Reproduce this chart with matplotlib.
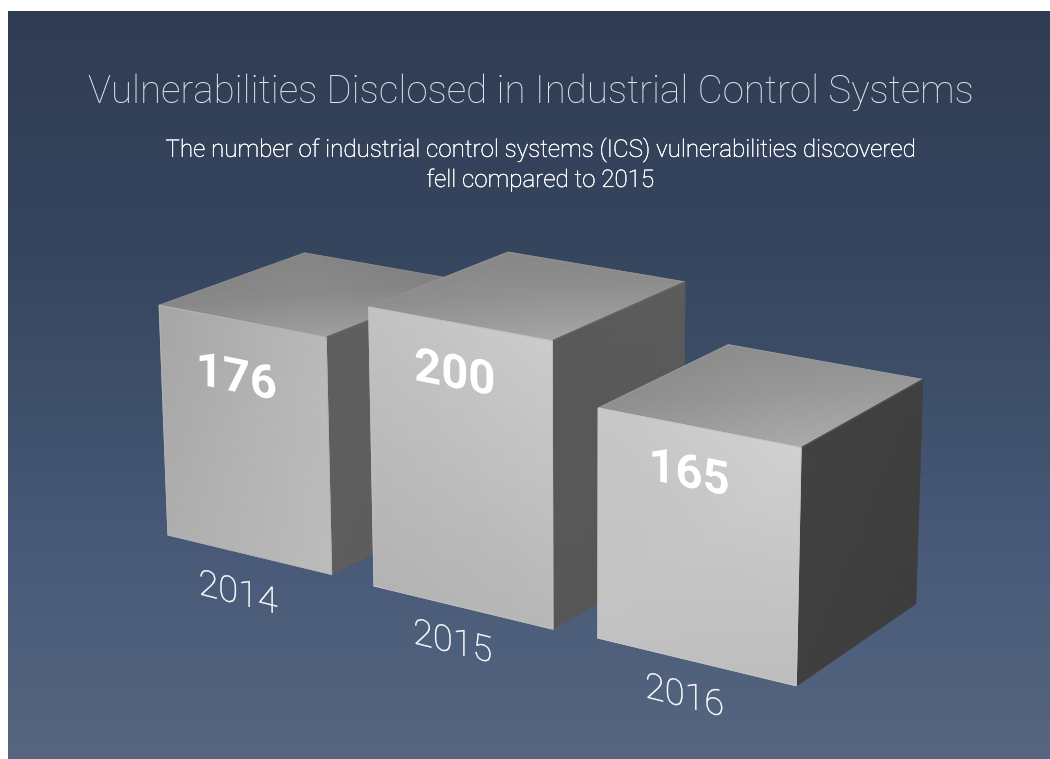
import numpy as np
import matplotlib
matplotlib.use("Agg")
import matplotlib.pyplot as plt
import matplotlib.patheffects as pe
from matplotlib.colors import LinearSegmentedColormap
from matplotlib.patches import Polygon
from matplotlib.transforms import Affine2D

# ---- data ----
years = ["2014", "2015", "2016"]
values = [176, 200, 165]
title = "Vulnerabilities Disclosed in Industrial Control Systems"
subtitle = ["The number of industrial control systems (ICS) vulnerabilities discovered",
            "fell compared to 2015"]

# ---- scene layout (world units: one bar footprint = 1) ----
bar_x = [-1.258, 0.0, 1.227]
bar_y = [0.012, 0.0, 0.017]
bar_w = [1.0, 1.0, 1.013]
bar_d = 0.97
value_floor = 27.8      # the height scale does not start at zero
value_top = 200.0
num_dx = [0.46, 0.475, 0.46]
num_frac = [0.75, 0.82, 0.795]
year_dx = [0.786, 0.712, 0.669]
year_dy = [-0.371, -0.321, -0.309]

# grey levels of each face corner: (top-left, top-right, bottom-left, bottom-right)
front_shade = [(0.65, 0.73, 0.68, 0.74), (0.76, 0.80, 0.70, 0.72), (0.78, 0.82, 0.76, 0.74)]
right_shade = [(0.37, 0.38, 0.37, 0.36), (0.35, 0.36, 0.34, 0.33), (0.26, 0.25, 0.25, 0.24)]
# top faces: (back-left, back-right, front-left, front-right)
top_shade = [(0.52, 0.50, 0.53, 0.63), (0.53, 0.55, 0.56, 0.65), (0.55, 0.60, 0.56, 0.67)]

# camera: origin pixel plus vanishing points of the three world axes
origin = np.array([374.0, 586.0, 1.0])
vp_x = np.array([-4500.0, -590.0, 1.0])
vp_y = np.array([2650.0, -590.0, 1.0])
vp_z = np.array([580.0, 11300.0, 1.0])
P = np.column_stack([-0.03542 * vp_x, 0.0654 * vp_y, -0.02538 * vp_z, origin])


def project(x, y, z):
    q = P @ np.array([x, y, z, 1.0])
    return q[0] / q[2], q[1] / q[2]


def height(v):
    return (v - value_floor) / (value_top - value_floor)


class Shear(pe.AbstractPathEffect):
    """Keeps text upright but tilts its baseline, as text painted on a face in perspective."""

    def __init__(self, anchor, slope, stroke=0.0):
        super().__init__()
        self.anchor = anchor
        self.slope = slope
        self.stroke = stroke

    def draw_path(self, renderer, gc, tpath, affine, rgbFace=None):
        xa, ya = self.anchor
        shear = Affine2D.from_values(1, -self.slope, 0, 1, 0, 0)
        t = affine + Affine2D().translate(-xa, -ya) + shear + Affine2D().translate(xa, ya)
        gc0 = renderer.new_gc()
        gc0.copy_properties(gc)
        if self.stroke:
            gc0.set_linewidth(self.stroke)
            gc0.set_foreground(rgbFace)
        renderer.draw_path(gc0, tpath, t, rgbFace)
        gc0.restore()


W, H = 1050, 759
fig = plt.figure(figsize=(W / 100, H / 100), dpi=100, facecolor="white")
ax = fig.add_axes([0, 0, 1, 1])
ax.set_xlim(0, W)
ax.set_ylim(H, 0)
ax.axis("off")

bg = LinearSegmentedColormap.from_list(
    "bg", [(0, "#303c53"), (0.33, "#36465f"), (0.72, "#485a78"), (1, "#566680")])
ax.imshow(np.linspace(0, 1, 256)[:, None], extent=(8, W, H, 11), cmap=bg, aspect="auto",
          interpolation="bicubic", zorder=0)
ax.set_xlim(0, W)
ax.set_ylim(H, 0)


def face(corners, shade, z):
    """corners ordered as TL, TR, BL, BR; shaded by gouraud interpolation"""
    pts = [project(*c) for c in corners]
    U = np.array([[pts[0][0], pts[1][0]], [pts[2][0], pts[3][0]]])
    V = np.array([[pts[0][1], pts[1][1]], [pts[2][1], pts[3][1]]])
    C = np.array([[shade[0], shade[1]], [shade[2], shade[3]]])
    ax.pcolormesh(U, V, C, shading="gouraud", cmap="gray", vmin=0, vmax=1, zorder=z)
    poly = [pts[0], pts[1], pts[3], pts[2]]
    ax.add_patch(Polygon(poly, closed=True, fill=False, lw=0.7, zorder=z + 0.1,
                         edgecolor=str(float(np.mean(shade)))))


def perspective_label(text, world, stroke=0.0, **kw):
    px, py = project(*world)
    qx, qy = project(world[0] + 0.1, world[1], world[2])
    slope = (qy - py) / (qx - px)
    anchor = ax.transData.transform((px, py))
    t = ax.text(px, py, text, family="Roboto", ha="center", va="center", zorder=20, **kw)
    t.set_path_effects([Shear(anchor, slope, stroke)])


for i, v in enumerate(values):
    x0, y0, w = bar_x[i], bar_y[i], bar_w[i]
    zt = height(v)
    x1, y1 = x0 + w, y0 + bar_d
    base = 2 + i * 2
    face([(x0, y1, zt), (x1, y1, zt), (x0, y0, zt), (x1, y0, zt)], top_shade[i], base)
    face([(x1, y0, zt), (x1, y1, zt), (x1, y0, 0), (x1, y1, 0)], right_shade[i], base)
    face([(x0, y0, zt), (x1, y0, zt), (x0, y0, 0), (x1, y0, 0)], front_shade[i], base + 0.5)

    perspective_label(str(v), (x0 + num_dx[i] * w, y0, zt * num_frac[i]),
                      color="white", weight="bold", fontsize=34)
    perspective_label(years[i], (x0 + year_dx[i], y0 + year_dy[i], 0), stroke=0.35,
                      color="white", weight="light", fontsize=26)

sub_fx = [pe.withStroke(linewidth=0.3, foreground="white")]
ax.text(531, 92.5, title, color="#dfe2e7", family="Roboto", weight="light", fontsize=27.7,
        ha="center", va="center", zorder=20)
ax.text(540, 150, subtitle[0], color="white", family="Roboto", weight="light", fontsize=17.4,
        ha="center", va="center", zorder=20, path_effects=sub_fx)
ax.text(540, 180, subtitle[1], color="white", family="Roboto", weight="light", fontsize=17.4,
        ha="center", va="center", zorder=20, path_effects=sub_fx)

fig.savefig("out.png", dpi=100, facecolor="white")
